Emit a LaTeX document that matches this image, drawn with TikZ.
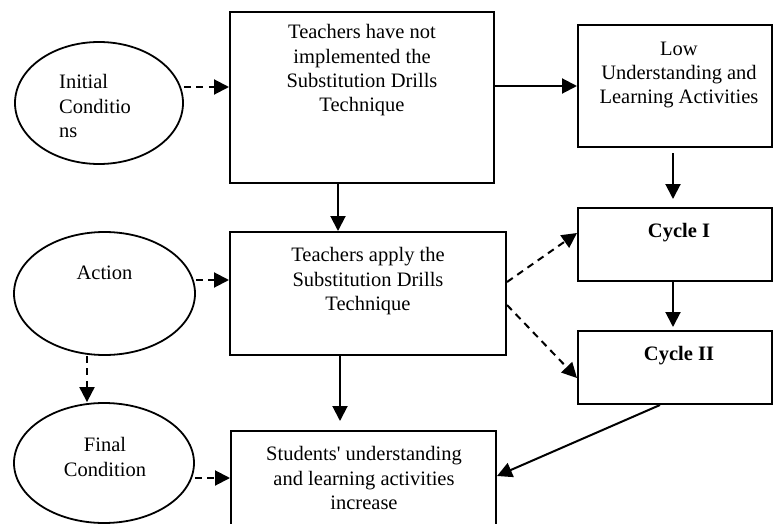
\documentclass[tikz,border=0pt]{standalone}
\usepackage{fontspec}
\setmainfont{Liberation Serif}
\usetikzlibrary{shapes.geometric,arrows.meta}
\begin{document}
\begin{tikzpicture}[x=1pt,y=-1pt,
  box/.style={draw, line width=2pt, inner sep=0pt},
  oval/.style={ellipse, draw, line width=1.8pt, inner sep=0pt},
  txt/.style={font=\fontsize{20.5pt}{24.3pt}\selectfont, inner sep=0pt, align=center},
  sar/.style={line width=2pt, -{Triangle[length=15pt,width=15pt]}},
  dar/.style={sar, dash pattern=on 7pt off 5.5pt}]
\useasboundingbox (0,0) rectangle (773,524);
\clip (0,0) rectangle (773,524);

% boxes
\node[box, minimum width=264pt, minimum height=171pt] (T1) at (362,97.5) {};
\node[box, minimum width=194pt, minimum height=122pt] (L) at (675,86) {};
\node[box, minimum width=194pt, minimum height=73pt] (C1) at (675,244.5) {};
\node[box, minimum width=194pt, minimum height=73pt] (C2) at (675,367.5) {};
\node[box, minimum width=276pt, minimum height=123pt] (M) at (368,293.5) {};
\node[box, minimum width=265pt, minimum height=110pt] (B) at (363.5,486) {};

% ellipses
\node[oval, minimum width=168pt, minimum height=122pt] (I) at (99,103) {};
\node[oval, minimum width=181pt, minimum height=123pt] (A) at (104.5,293.5) {};
\node[oval, minimum width=180pt, minimum height=120pt] (F) at (104,463) {};

% texts
\node[txt, anchor=north] (t1) at (362,24.5) {Teachers have not\\implemented the\\Substitution Drills\\Technique};
\node[txt, anchor=north] (tl) at (679,41.5) {Low\\Understanding and\\Learning Activities};
\node[txt, anchor=base] (tc1) at (679,237.5) {\textbf{Cycle I}};
\node[txt, anchor=base] (tc2) at (679,360.5) {\textbf{Cycle II}};
\node[txt, anchor=north] (tm) at (368,247.5) {Teachers apply the\\Substitution Drills\\Technique};
\node[txt, anchor=north] (tb) at (364,446.5) {Students\textquotesingle\ understanding\\and learning activities\\increase};
\node[txt, anchor=north west, align=left] (ti) at (59,74.5) {Initial\\Conditio\\ns};
\node[txt, anchor=base] (ta) at (104.5,279.5) {Action};
\node[txt, anchor=north] (tf) at (105,437.5) {Final\\Condition};

% connectors
\draw[dar] ([yshift=16pt]I.east) -- ([yshift=16pt]I.east -| T1.west);
\draw[sar] ([yshift=11.5pt]T1.east) -- ([yshift=11.5pt]T1.east -| L.west);
\draw[sar] (T1.south -| 338,0) -- (M.north -| 338,0);
\draw[sar, shorten <=5pt, shorten >=8pt] (L.south -| 673,0) -- (C1.north -| 673,0);
\draw[sar, shorten >=3pt] (C1.south -| 673,0) -- (C2.north -| 673,0);
\draw[dar] ([yshift=13.5pt]A.east) -- ([yshift=13.5pt]A.east -| M.west);
\draw[dar] (A.south -| 87,0) -- (F.north -| 87,0);
\draw[dar] ([yshift=-15pt]F.east) -- ([yshift=-15pt]F.east -| B.west);
\draw[sar, shorten >=9pt] (M.south -| 340,0) -- (B.north -| 340,0);
\draw[dar] ([yshift=11.5pt]M.east) -- ([yshift=11.5pt]C1.west);
\draw[dar] ([yshift=-11.5pt]M.east) -- ([yshift=-10.5pt]C2.west);
\draw[sar] ([xshift=-15pt]C2.south) -- ([yshift=10pt]B.east);
\end{tikzpicture}
\end{document}
